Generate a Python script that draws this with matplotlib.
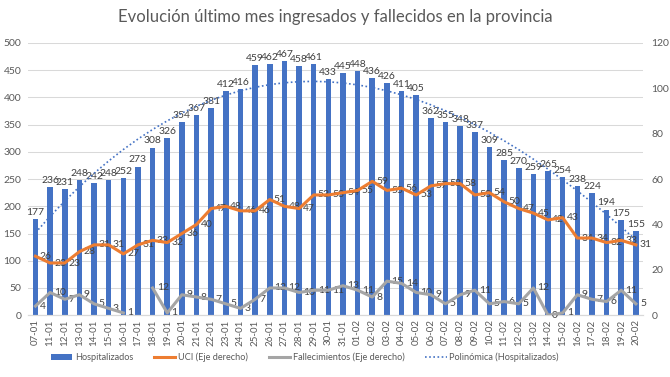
import numpy as np
import matplotlib.pyplot as plt

plt.rcParams['font.family'] = ['Lato', 'DejaVu Sans']

# Datos
fechas = ['07-01', '11-01', '12-01', '13-01', '14-01', '15-01', '16-01', '17-01',
          '18-01', '19-01', '20-01', '21-01', '22-01', '23-01', '24-01', '25-01',
          '26-01', '27-01', '28-01', '29-01', '30-01', '31-01', '01-02', '02-02',
          '03-02', '04-02', '05-02', '06-02', '07-02', '08-02', '09-02', '10-02',
          '11-02', '12-02', '13-02', '14-02', '15-02', '16-02', '17-02', '18-02',
          '19-02', '20-02']
hospitalizados = [177, 236, 231, 248, 242, 248, 252, 273, 308, 326, 354, 367, 381, 412,
                  416, 459, 462, 467, 458, 461, 433, 445, 448, 436, 426, 411, 405, 362,
                  355, 348, 337, 309, 285, 270, 259, 265, 254, 238, 224, 194, 175, 155]
uci = [26, 23, 23, 28, 31, 31, 27, 31, 33, 32, 36, 40, 47, 48, 46, 46, 51, 48, 47, 53, 53,
       54, 55, 59, 55, 56, 53, 57, 58, 58, 53, 54, 50, 47, 45, 42, 43, 34, 34, 32, 33, 31]
fallecimientos = [4, 10, 7, 9, 5, 3, 1, np.nan, 12, 1, 9, 8, 7, 5, 3, 7, 12, 12, 10, 11, 11,
                  13, 11, 8, 15, 14, 10, 9, 5, 9, 11, 5, 6, 5, 12, 0, 1, 9, 7, 6, 11, 5]

azul = '#4472C4'
naranja = '#ED7D31'
gris = '#A5A5A5'
texto = '#404040'
eje = '#595959'

x = np.arange(len(fechas))

fig = plt.figure(figsize=(6.7, 3.77), dpi=100)
ax = fig.add_axes([0.042, 0.164, 0.918, 0.722])
ax2 = ax.twinx()

# Barras
ax.bar(x, hospitalizados, width=0.38, color=azul, zorder=2, label='Hospitalizados')
for xi, v in zip(x, hospitalizados):
    ax.annotate(str(v), (xi, v), xytext=(0, 1.5), textcoords='offset points',
                ha='center', va='bottom', fontsize=7.5, color=texto)

# Tendencia polinómica
coef = np.polyfit(x + 1, hospitalizados, 3)
tend = np.polyval(coef, x + 1)
ax.plot(x, tend, linestyle=(0, (1, 1.5)), color=azul, linewidth=1.2, zorder=3,
        label='Polinómica (Hospitalizados)')

# Líneas eje derecho
ax2.plot(x, uci, color=naranja, linewidth=2.2, zorder=4, label='UCI (Eje derecho)')
ax2.plot(x, fallecimientos, color=gris, linewidth=2.2, zorder=4,
         label='Fallecimientos (Eje derecho)')
for xi, v in zip(x, uci):
    ax2.annotate(str(v), (xi, v), xytext=(3, 0), textcoords='offset points',
                 ha='left', va='center', fontsize=7.5, color=texto)
for xi, v in zip(x, fallecimientos):
    if np.isnan(v):
        continue
    ax2.annotate(str(int(v)), (xi, v), xytext=(3, 0), textcoords='offset points',
                 ha='left', va='center', fontsize=7.5, color=texto)

# Ejes
ax.set_ylim(0, 500)
ax.set_yticks(range(0, 501, 50))
ax2.set_ylim(0, 120)
ax2.set_yticks(range(0, 121, 20))
ax.set_xlim(-0.5, len(fechas) - 0.5)
ax.set_xticks(x)
ax.set_xticklabels(fechas, rotation=90, fontsize=7, color=eje)
ax.tick_params(axis='y', length=0, labelsize=7.5, labelcolor=eje, pad=5)
ax2.tick_params(axis='y', length=0, labelsize=7.5, labelcolor=eje, pad=6)
ax.tick_params(axis='x', length=0, pad=3)
ax.grid(axis='y', color='#D9D9D9', linewidth=0.75, zorder=0)
ax.set_axisbelow(True)
for a in (ax, ax2):
    for s in ('top', 'left', 'right'):
        a.spines[s].set_visible(False)
    a.spines['bottom'].set_color('#D9D9D9')

fig.suptitle('Evolución último mes ingresados y fallecidos en la provincia',
             y=0.975, fontsize=12, color=eje)

h1, l1 = ax.get_legend_handles_labels()
h2, l2 = ax2.get_legend_handles_labels()
handles = [h1[1], h2[0], h2[1], h1[0]]
labels = [l1[1], l2[0], l2[1], l1[0]]
fig.legend(handles, labels, loc='center', bbox_to_anchor=(0.455, 0.052), ncol=4,
           frameon=False, fontsize=6.6, labelcolor=eje, handlelength=2.3,
           columnspacing=2.3, handletextpad=0.3)

fig.savefig('out.png', dpi=100)
